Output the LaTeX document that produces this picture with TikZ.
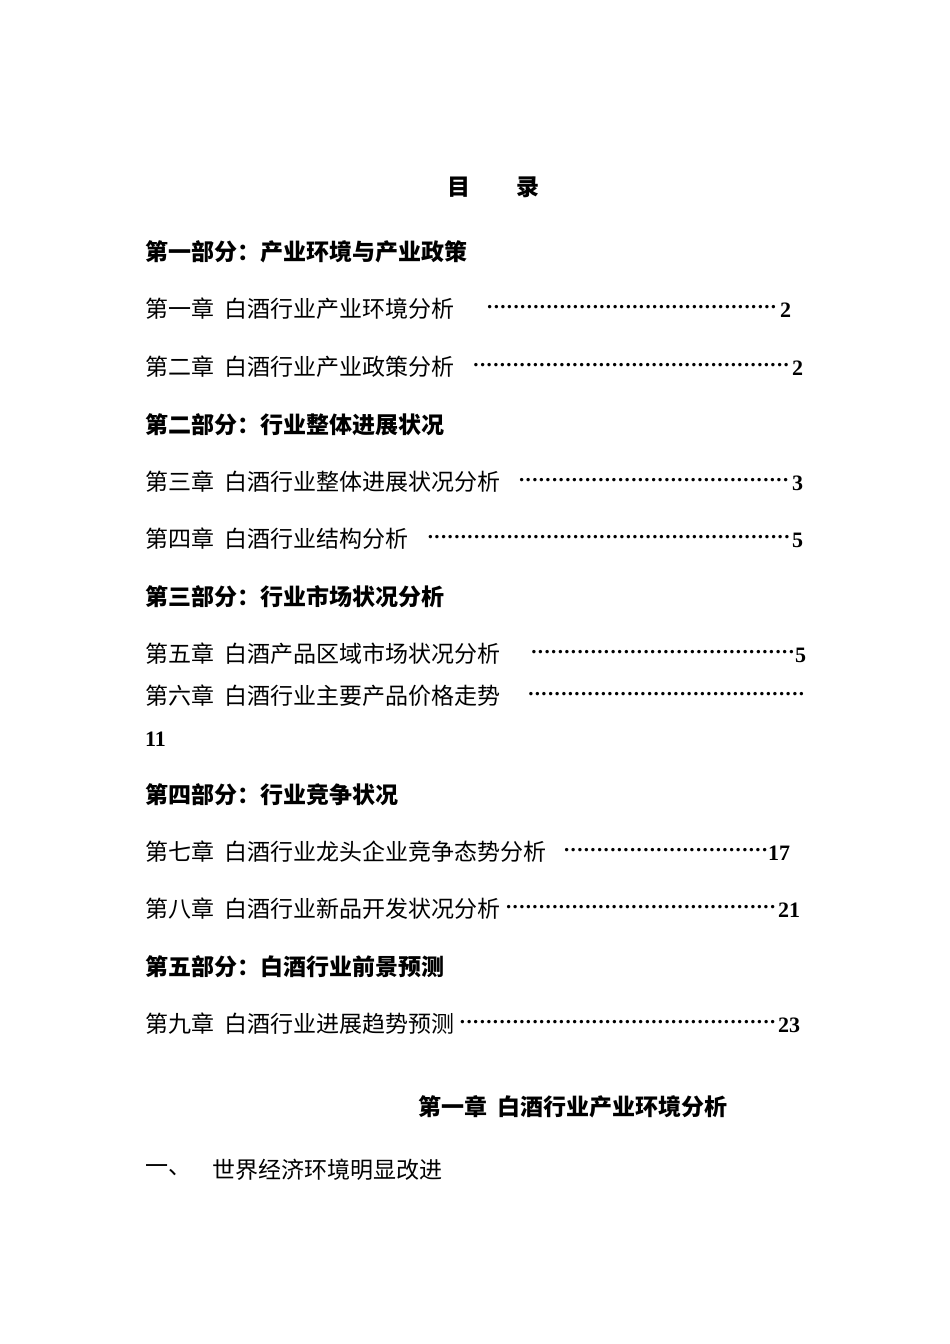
\documentclass[tikz,border=0pt]{standalone}
\usepackage{fontspec}
\setmainfont{Liberation Serif}
\newfontfamily\cjk{Noto Sans CJK SC}
\newcommand{\mydots}[1]{\makebox[#1pt]{\bfseries\cleaders\hbox to 6.6pt{\hss.\hss}\hfill}}
\begin{document}
\begin{tikzpicture}[x=1pt,y=-1pt,
  tx/.style={anchor=west,inner sep=0pt,font=\cjk\fontsize{23}{25}\selectfont},
  hd/.style={anchor=west,inner sep=0pt,font=\cjk\bfseries\fontsize{23}{25}\selectfont},
  dt/.style={anchor=west,inner sep=0pt,font=\fontsize{21}{23}\selectfont},
  num/.style={anchor=west,inner sep=0pt,font=\bfseries\fontsize{22}{24}\selectfont}]
\useasboundingbox (0,0) rectangle (950,1344);
\fill[white] (0,0) rectangle (950,1344);
\node[hd,anchor=center] (title) at (493,187) {目\hspace{2em}录};
\node[hd] (p1) at (145,252) {第一部分：产业环境与产业政策};
\node[tx] (c1) at (145,309) {第一章\ \ 白酒行业产业环境分析};
\node[dt] (d1) at (483,307) {\mydots{297}};
\node[num] (n1) at (780,310) {2};
\node[tx] (c2) at (145,367) {第二章\ \ 白酒行业产业政策分析};
\node[dt] (d2) at (470,365) {\mydots{322}};
\node[num] (n2) at (792,368) {2};
\node[hd] (p2) at (145,425) {第二部分：行业整体进展状况};
\node[tx] (c3) at (145,482) {第三章\ \ 白酒行业整体进展状况分析};
\node[dt] (d3) at (515,480) {\mydots{277}};
\node[num] (n3) at (792,483) {3};
\node[tx] (c4) at (145,539) {第四章\ \ 白酒行业结构分析};
\node[dt] (d4) at (425,537) {\mydots{367}};
\node[num] (n4) at (792,540) {5};
\node[hd] (p3) at (145,597) {第三部分：行业市场状况分析};
\node[tx] (c5) at (145,654) {第五章\ \ 白酒产品区域市场状况分析};
\node[dt] (d5) at (530,652) {\mydots{265}};
\node[num] (n5) at (795,655) {5};
\node[tx] (c6) at (145,696) {第六章\ \ 白酒行业主要产品价格走势};
\node[dt] (d6) at (525,694) {\mydots{282}};
\node[num] (n6) at (145,739) {11};
\node[hd] (p4) at (145,795) {第四部分：行业竞争状况};
\node[tx] (c7) at (145,852) {第七章\ \ 白酒行业龙头企业竞争态势分析};
\node[dt] (d7) at (563,850) {\mydots{205}};
\node[num] (n7) at (768,853) {17};
\node[tx] (c8) at (145,909) {第八章\ \ 白酒行业新品开发状况分析};
\node[dt] (d8) at (503,907) {\mydots{275}};
\node[num] (n8) at (778,910) {21};
\node[hd] (p5) at (145,967) {第五部分：白酒行业前景预测};
\node[tx] (c9) at (145,1024) {第九章\ \ 白酒行业进展趋势预测};
\node[dt] (d9) at (457,1022) {\mydots{321}};
\node[num] (n9) at (778,1025) {23};
\node[hd] (ch1) at (418,1107) {第一章\ \ 白酒行业产业环境分析};
\node[tx] (s1) at (145,1170) {一、};
\node[tx] (s1t) at (212,1170) {世界经济环境明显改进};
\end{tikzpicture}
\end{document}
